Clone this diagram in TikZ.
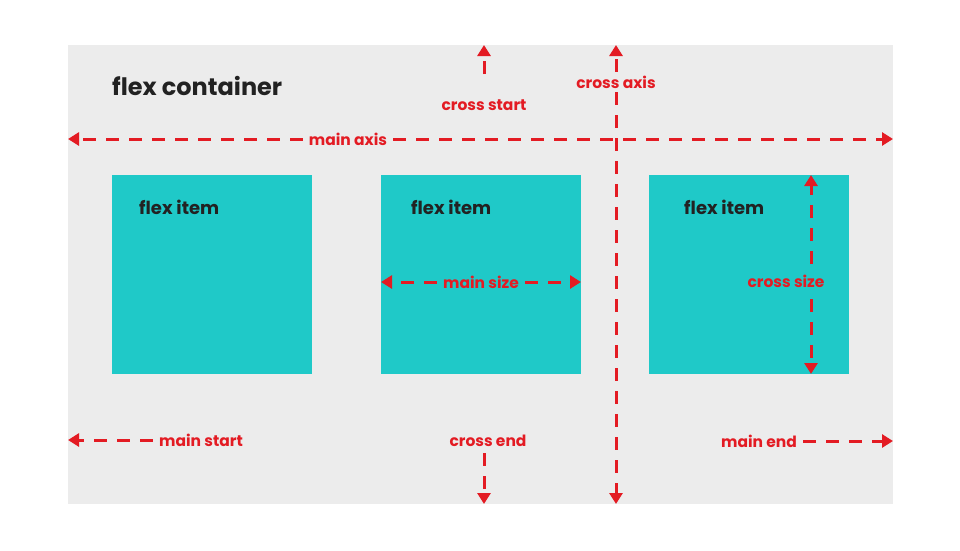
\documentclass[tikz,border=0pt]{standalone}
\usepackage{fontspec}
\setmainfont{Poppins}
\usetikzlibrary{arrows.meta}
\definecolor{bgray}{HTML}{ECECEC}
\definecolor{teal}{HTML}{1FC9C8}
\definecolor{flexred}{HTML}{E31B23}
\definecolor{ink}{HTML}{222222}
\begin{document}
\begin{tikzpicture}[x=1pt,y=-1pt,
  box/.style={inner sep=0pt,outer sep=0pt,anchor=north west},
  container/.style={box,fill=bgray,minimum width=825pt,minimum height=459pt},
  itembox/.style={box,fill=teal,minimum width=200pt,minimum height=199pt},
  itemlbl/.style={text=ink,anchor=west,inner sep=0pt,font=\fontsize{18}{18}\selectfont\bfseries},
  titlelbl/.style={text=ink,anchor=west,inner sep=0pt,font=\fontsize{24}{24}\selectfont\bfseries},
  redlbl/.style={text=flexred,inner sep=6pt,font=\fontsize{15.5}{15.5}\selectfont\bfseries},
  arr/.style={draw=flexred,line width=3pt,dash pattern=on 13pt off 10pt,
    -{Triangle[width=13pt,length=11pt]}}]
\useasboundingbox (0,0) rectangle (960,550);
\node[container] (cont) at (68,45) {};
\node[titlelbl] (title) at (112,86) {flex container};
\node[itembox] (i1) at (112,175) {};
\node[itembox] (i2) at (381,175) {};
\node[itembox] (i3) at (649,175) {};
\node[itemlbl] (l1) at (139,207) {flex item};
\node[itemlbl] (l2) at (411,207) {flex item};
\node[itemlbl] (l3) at (684,207) {flex item};
% main axis
\node[redlbl] (ma) at (348,139) {main axis};
\draw[arr] (ma.west) -- (cont.west |- ma);
\draw[arr] (ma.east) -- (cont.east |- ma);
% cross axis
\node[redlbl,inner sep=4pt] (ca) at (616,82) {cross axis};
\draw[arr] (ca.north) -- (ca |- cont.north);
\draw[arr] (ca.south) -- (ca |- cont.south);
% cross start
\node[redlbl] (cs) at (484,105) {cross start};
\coordinate (csa) at (484,74);
\draw[arr] (csa) -- (csa |- cont.north);
% cross end
\node[redlbl] (ce) at (488,441) {cross end};
\coordinate (cea) at (484,453);
\draw[arr] (cea) -- (cea |- cont.south);
% main start / end
\node[redlbl] (ms) at (201,440) {main start};
\draw[arr] (ms.west) -- (cont.west |- ms);
\node[redlbl] (me) at (759,441) {main end};
\draw[arr] (me.east) -- (cont.east |- me);
% main size
\node[redlbl] (msz) at (481,282) {main size};
\draw[arr] (msz.west) -- (i2.west |- msz);
\draw[arr] (msz.east) -- (i2.east |- msz);
% cross size
\node[redlbl] (csz) at (786,281) {cross size};
\coordinate (cst) at (811,264);
\coordinate (csb) at (811,299);
\draw[arr] (cst) -- (cst |- i3.north);
\draw[arr] (csb) -- (csb |- i3.south);
\end{tikzpicture}
\end{document}
